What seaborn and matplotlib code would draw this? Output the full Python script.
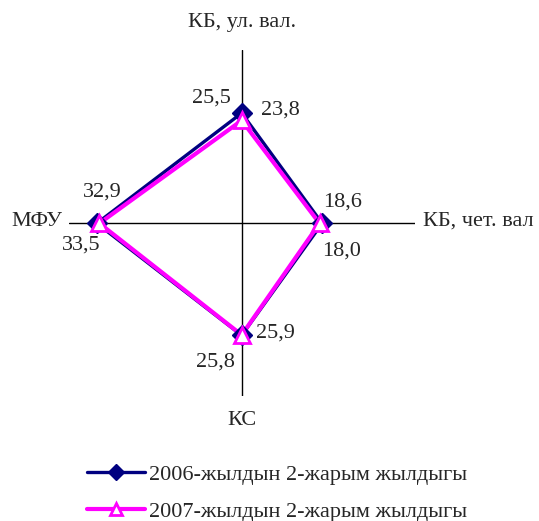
import numpy as np
import pandas as pd
import seaborn as sns
import matplotlib.pyplot as plt

# data
categories = ["КБ, ул. вал.", "КБ, чет. вал", "КС", "МФУ"]
angles_deg = [90, 0, -90, 180]  # top, right, bottom, left (clockwise from top)
series_names = ["2006-жылдын 2-жарым жылдыгы", "2007-жылдын 2-жарым жылдыгы"]
values_2006 = [25.5, 18.6, 25.9, 33.5]
values_2007 = [23.8, 18.0, 25.8, 32.9]
r_max = 40

sns.set_style("white")
plt.rcParams["font.family"] = ["Liberation Serif", "DejaVu Serif"]

fig = plt.figure(figsize=(5.39, 5.21), dpi=100)
ax = fig.add_axes([0.1274, 0.2393, 0.642, 0.664])

# build long table of cartesian points (closing the polygon)
rows = []
for name, vals in zip(series_names, [values_2006, values_2007]):
    for i, (a, v) in enumerate(zip(angles_deg + angles_deg[:1], vals + vals[:1])):
        t = np.deg2rad(a)
        rows.append({"series": name, "order": i, "x": v * np.cos(t), "y": v * np.sin(t), "v": v})
df = pd.DataFrame(rows)

# axes cross
ax.plot([-r_max, r_max], [0, 0], color="black", lw=1, zorder=1)
ax.plot([0, 0], [-r_max, r_max], color="black", lw=1, zorder=1)

styles = {
    series_names[0]: dict(color="#000080", lw=2.4, marker="D", ms=10,
                          mfc="#000080", mec="#000080"),
    series_names[1]: dict(color="#FF00FF", lw=3.0, marker="^", ms=11,
                          mfc="white", mec="#FF00FF", mew=2),
}
for name in series_names:
    sub = df[df["series"] == name]
    st = styles[name]
    sns.lineplot(data=sub, x="x", y="y", sort=False, estimator=None, ax=ax,
                 color=st["color"], lw=st["lw"], zorder=2, legend=False)
    pts = sub.iloc[:-1]
    ax.plot(pts["x"], pts["y"], ls="none", marker=st["marker"], ms=st["ms"],
            mfc=st["mfc"], mec=st["mec"], mew=st.get("mew", 1), zorder=3)

# value labels (pixel offsets from the point)
label_offsets = {
    series_names[0]: [(-30, 15), (20, 21), (34, 2), (-16, -22)],
    series_names[1]: [(39, 10), (22, -28), (-26, -27), (3, 31)],
}
for name in series_names:
    sub = df[df["series"] == name].iloc[:-1]
    for (x, y, v), off in zip(sub[["x", "y", "v"]].values, label_offsets[name]):
        ax.annotate(f"{v:.1f}".replace(".", ","), (x, y), xytext=off,
                    textcoords="offset pixels", ha="center", va="center", fontsize=16)

# category labels
ax.text(0, 46.5, categories[0], ha="center", va="center", fontsize=16)
ax.text(42, 0.5, categories[1], ha="left", va="center", fontsize=16)
ax.text(0, -45.5, categories[2], ha="center", va="center", fontsize=16)
ax.text(-41.5, 0.5, categories[3], ha="right", va="center", fontsize=16)

ax.set_xlim(-r_max, r_max)
ax.set_ylim(-r_max, r_max)
ax.set_axis_off()

# legend with markers
handles = [plt.Line2D([], [], color=styles[n]["color"], lw=styles[n]["lw"],
                      marker=styles[n]["marker"], ms=styles[n]["ms"] - 2,
                      mfc=styles[n]["mfc"], mec=styles[n]["mec"],
                      mew=styles[n].get("mew", 1)) for n in series_names]
fig.legend(handles, series_names, loc="upper left", bbox_to_anchor=(87 / 539, 1 - 464 / 521),
           frameon=False, fontsize=16, handlelength=2.6, handletextpad=0.2,
           borderpad=0, borderaxespad=0, labelspacing=0.75)

fig.savefig("out.png", dpi=100)
